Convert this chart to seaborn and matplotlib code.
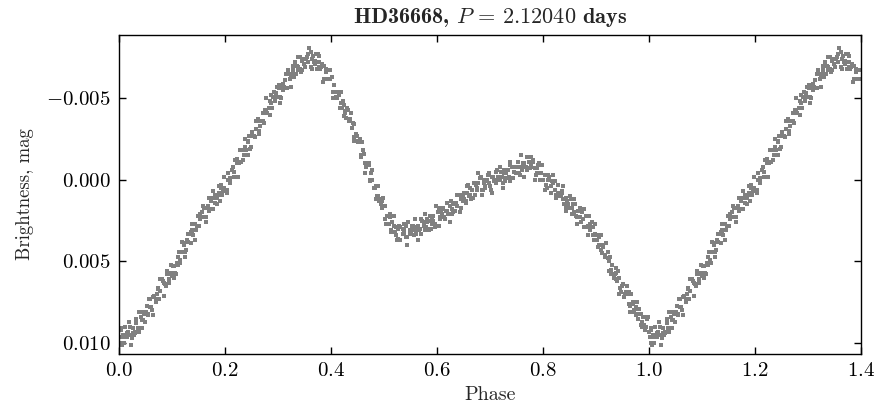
import numpy as np
import pandas as pd
import matplotlib
matplotlib.use("Agg")
import matplotlib.pyplot as plt
import matplotlib.ticker as mticker
import seaborn as sns

# Observations: phase (units of 0.001) and brightness (units of 0.0001 mag)
phase_milli_a = [
    1, 4, 8, 12, 15, 19, 21, 24, 27, 30, 33, 37, 41, 45, 48, 52, 54, 58, 61, 65, 69,
    70, 74, 77, 82, 85, 88, 91, 94, 98, 100, 103, 107, 111, 115, 118, 122, 124, 129,
    131, 135, 138, 140, 144, 147, 152, 155, 159, 161, 164, 167, 170, 173, 177, 181, 185, 188,
    192, 194, 198, 201, 205, 209, 210, 214, 217, 222, 225, 228, 231, 234, 238, 240, 243, 247,
    251, 255, 258, 262, 264, 269, 271, 275, 278, 280, 284, 287, 292, 295, 299, 301, 304, 307,
    310, 313, 317, 321, 325, 328, 332, 334, 338, 341, 345, 349, 350, 354, 357, 362, 365, 368,
    371, 374, 378, 380, 383, 387, 391, 395, 398, 402, 404, 409, 411, 415, 418, 420, 424, 427,
    432, 435, 439, 441, 444, 447, 450, 453, 457, 461, 465, 468, 472, 474, 478, 481, 485, 489,
    490, 494, 497, 502, 505, 508, 511, 514, 518, 520, 523, 527, 531, 535, 538, 542, 544, 549,
    551, 555, 558, 560, 564, 567, 572, 575, 579, 581, 584, 587, 590, 593, 597, 601, 605, 608,
    612, 614, 619, 621, 625, 628, 630, 634, 637, 642, 645, 649, 651, 654, 657, 660, 663, 667,
    671, 675, 678, 682, 684, 689, 691, 695, 698, 700, 704, 707, 712, 715, 719, 721, 724, 727,
    730, 733, 737, 741, 745, 748, 752, 754, 759, 761, 765, 768, 770, 774, 777, 782, 785, 789,
    791, 794, 797, 800, 803, 807, 811, 815, 818, 822, 824, 829, 831, 835, 838, 840, 844, 847,
    852, 855, 859, 861, 864, 867, 870, 873, 877, 881, 885, 888, 892, 894, 899, 901, 905, 908,
    910, 914, 917, 922, 925, 929, 931, 934, 937, 940, 943, 947, 951, 955, 958, 962, 964, 969,
    971, 975, 978, 980, 984, 987, 992, 995, 999,
]
mag_a = [
    96, 91, 95, 90, 94, 95, 90, 96, 91, 93, 88, 93, 84, 86, 82, 77, 83, 78, 78, 72, 73,
    74, 67, 68, 61, 63, 64, 58, 63, 57, 59, 53, 58, 47, 49, 44, 39, 44, 38,
    38, 32, 33, 34, 27, 28, 21, 23, 23, 17, 23, 16, 18, 13, 18, 9, 11, 8,
    3, 9, 5, 6, 0, 1, 2, -6, -5, -13, -11, -11, -18, -12, -20, -18, -24, -19,
    -29, -27, -31, -36, -30, -36, -36, -43, -42, -41, -48, -47, -54, -51, -51, -56, -51, -57,
    -55, -61, -56, -65, -63, -67, -72, -65, -69, -68, -73, -71, -69, -75, -72, -78, -74, -72,
    -77, -68, -72, -68, -71, -62, -68, -62, -62, -63, -54, -54, -50, -52, -47, -44, -46, -41,
    -43, -37, -32, -35, -26, -28, -23, -24, -14, -18, -10, -10, -9, 0, 0, 5, 4, 10,
    13, 12, 17, 16, 22, 27, 23, 32, 28, 32, 29, 36, 29, 33, 31, 28, 35, 31,
    33, 28, 31, 33, 28, 30, 25, 28, 29, 24, 30, 25, 27, 22, 29, 20, 23, 20,
    17, 23, 19, 21, 16, 18, 20, 14, 16, 9, 12, 13, 8, 14, 8, 10, 5, 11,
    2, 5, 2, -1, 6, 2, 4, 0, 2, 4, -2, 1, -5, -2, 0, -5, 2, -4,
    -1, -6, 1, -8, -5, -8, -11, -4, -8, -6, -10, -8, -6, -11, -8, -12, -7, -4,
    -9, 0, -4, 0, -3, 5, -2, 4, 2, 1, 9, 8, 10, 8, 12, 15, 11, 15,
    12, 17, 20, 15, 23, 19, 23, 20, 29, 22, 28, 27, 26, 34, 33, 37, 35, 40,
    43, 41, 46, 44, 50, 55, 52, 60, 57, 62, 60, 69, 64, 70, 70, 69, 77, 76,
    80, 78, 82, 85, 82, 87, 84, 90, 93,
]
phase_milli_b = [
    3, 6, 9, 10, 15, 17, 22, 26, 29, 31, 33, 36, 43, 46, 49, 50, 55, 57, 62, 66, 69,
    71, 73, 76, 83, 86, 89, 90, 95, 97, 102, 106, 109, 111, 113, 116, 123, 126, 129,
    130, 135, 137, 142, 146, 149, 151, 153, 156, 163, 166, 169, 170, 175, 177, 182, 186, 189,
    191, 193, 196, 203, 206, 209, 210, 215, 217, 222, 226, 229, 231, 233, 236, 243, 246, 249,
    250, 255, 257, 262, 266, 269, 271, 273, 276, 283, 286, 289, 290, 295, 297, 302, 306, 309,
    311, 313, 316, 323, 326, 329, 330, 335, 337, 342, 346, 349, 351, 353, 356, 363, 366, 369,
    370, 375, 377, 382, 386, 389, 391, 393, 396, 403, 406, 409, 410, 415, 417, 422, 426, 429,
    431, 433, 436, 443, 446, 449, 450, 455, 457, 462, 466, 469, 471, 473, 476, 483, 486, 489,
    490, 495, 497, 502, 506, 509, 511, 513, 516, 523, 526, 529, 530, 535, 537, 542, 546, 549,
    551, 553, 556, 563, 566, 569, 570, 575, 577, 582, 586, 589, 591, 593, 596, 603, 606, 609,
    610, 615, 617, 622, 626, 629, 631, 633, 636, 643, 646, 649, 650, 655, 657, 662, 666, 669,
    671, 673, 676, 683, 686, 689, 690, 695, 697, 702, 706, 709, 711, 713, 716, 723, 726, 729,
    730, 735, 737, 742, 746, 749, 751, 753, 756, 763, 766, 769, 770, 775, 777, 782, 786, 789,
    791, 793, 796, 803, 806, 809, 810, 815, 817, 822, 826, 829, 831, 833, 836, 843, 846, 849,
    850, 855, 857, 862, 866, 869, 871, 873, 876, 883, 886, 889, 890, 895, 897, 902, 906, 909,
    911, 913, 916, 923, 926, 929, 930, 935, 937, 942, 946, 949, 951, 953, 956, 963, 966, 969,
    970, 975, 977, 982, 986, 989, 991, 993, 996,
]
mag_b = [
    92, 101, 96, 100, 96, 93, 101, 94, 95, 94, 85, 91, 86, 81, 87, 81, 82, 73, 80, 71, 75,
    70, 66, 73, 62, 64, 65, 56, 61, 58, 53, 57, 51, 52, 44, 51, 40, 43, 37,
    33, 39, 31, 31, 31, 22, 28, 24, 20, 23, 17, 19, 11, 18, 11, 14, 9, 4,
    13, 5, 7, 6, -4, 2, -1, -8, -2, -10, -10, -18, -11, -18, -15, -23, -27, -20,
    -27, -27, -26, -37, -33, -36, -41, -35, -42, -44, -52, -44, -51, -48, -53, -58, -50, -59,
    -57, -56, -65, -62, -65, -70, -63, -70, -67, -75, -67, -74, -69, -74, -77, -69, -76, -73,
    -71, -77, -69, -69, -70, -62, -66, -62, -67, -54, -58, -51, -54, -54, -44, -48, -42, -38,
    -44, -36, -36, -34, -24, -27, -23, -25, -15, -16, -8, -9, -10, 1, -4, 5, 10, 4,
    12, 15, 13, 24, 22, 27, 21, 31, 26, 34, 30, 28, 37, 30, 33, 35, 26, 33,
    31, 28, 34, 29, 31, 24, 33, 26, 31, 26, 22, 30, 23, 25, 27, 17, 24, 21,
    18, 24, 19, 21, 13, 21, 15, 19, 14, 9, 17, 9, 12, 13, 4, 9, 6, 2,
    9, 3, 6, -2, 6, 0, 5, 1, -3, 6, -2, 0, 2, -6, 0, -2, -6, 1,
    -4, -2, -9, -1, -8, -4, -8, -11, -3, -10, -8, -6, -14, -7, -9, -11, -3, -7,
    -4, -10, 0, -3, 3, 0, -3, 8, 1, 6, 9, 3, 10, 9, 7, 17, 13, 17,
    10, 21, 15, 22, 19, 17, 26, 20, 24, 29, 22, 31, 29, 29, 37, 34, 40, 34,
    45, 40, 47, 48, 47, 58, 52, 58, 61, 56, 66, 65, 64, 72, 69, 76, 70, 81,
    75, 83, 79, 79, 90, 84, 89, 92, 85,
]
phase_milli_c = [
    4, 18, 24, 38, 44, 58, 64, 78, 84, 98, 104, 118, 124, 138, 144, 158, 164, 178, 184, 198,
    204, 218, 224, 238, 244, 258, 264, 278, 284, 298, 304, 318, 324, 338, 344, 358, 364, 378,
    384, 398, 404, 418, 424, 438, 444, 458, 464, 478, 484, 498, 504, 518, 524, 538, 544, 558,
    564, 578, 584, 598, 604, 618, 624, 638, 644, 658, 664, 678, 684, 698, 704, 718, 724, 738,
    744, 758, 764, 778, 784, 798, 804, 818, 824, 838, 844, 858, 864, 878, 884, 898, 904, 918,
    924, 938, 944, 958, 964, 978, 984, 998,
]
mag_c = [
    100, 87, 97, 81, 91, 73, 83, 61, 71, 52, 60, 38, 47, 27, 37, 16, 26, 7, 15, -2,
    8, -12, -2, -25, -15, -36, -28, -50, -40, -57, -47, -67, -57, -75, -66, -81, -68, -76,
    -60, -67, -50, -54, -39, -41, -24, -23, -4, -6, 12, 11, 27, 22, 37, 27, 40, 24,
    37, 21, 31, 16, 28, 14, 26, 9, 20, 3, 12, -4, 9, -4, 8, -8, 5, -11,
    -1, -15, -2, -14, 0, -9, 6, -3, 11, 4, 19, 12, 27, 18, 34, 27, 41, 39,
    56, 54, 70, 65, 81, 75, 89, 84,
]

title_text = r"HD36668, $P\,=\,2.12040$ days"
x_label = "Phase"
y_label = "Brightness, mag"
x_ticks = [0.0, 0.2, 0.4, 0.6, 0.8, 1.0, 1.2, 1.4]
y_ticks = [-0.005, 0.000, 0.005, 0.010]

phase = np.array(phase_milli_a + phase_milli_b + phase_milli_c) / 1000.0
mag = np.array(mag_a + mag_b + mag_c) / 10000.0

# Folded light curve shown over 1.4 cycles: phase and phase + 1
df = pd.concat([
    pd.DataFrame({"phase": phase, "mag": mag}),
    pd.DataFrame({"phase": phase + 1.0, "mag": mag}),
], ignore_index=True)
df = df[df["phase"] <= 1.4]

sns.set_theme(style="ticks")
plt.rcParams.update({
    "font.family": "serif",
    "font.serif": ["cmr10", "DejaVu Serif"],
    "mathtext.fontset": "cm",
    "axes.formatter.use_mathtext": True,
    "axes.unicode_minus": True,
    "xtick.direction": "in",
    "ytick.direction": "in",
    "xtick.top": True,
    "ytick.right": True,
    "axes.linewidth": 1.0,
    "axes.edgecolor": "black",
})

fig = plt.figure(figsize=(8.77, 4.12), dpi=100)
ax = fig.add_axes([0.1357, 0.1408, 0.8461, 0.7742])

sns.scatterplot(data=df, x="phase", y="mag", ax=ax, color="#808080",
                marker="s", s=5.5, linewidth=0, legend=False)

ax.set_xlim(0.0, 1.4)
ax.set_ylim(0.01067, -0.00887)
ax.set_xticks(x_ticks)
ax.set_yticks(y_ticks)
ax.xaxis.set_major_formatter(mticker.FuncFormatter(lambda v, p: f"${v:.1f}$"))
ax.yaxis.set_major_formatter(mticker.FuncFormatter(lambda v, p: f"${v:.3f}$"))
ax.tick_params(axis="both", which="major", direction="in", length=5, width=1.0,
               labelsize=15, colors="black", top=True, right=True, pad=6)

ax.set_title(title_text, fontsize=16, pad=9, fontfamily="cmb10")
ax.set_xlabel(x_label, fontsize=14.5, labelpad=4)
ax.set_ylabel(y_label, fontsize=13.5, labelpad=9)

fig.savefig("out.png", dpi=100)
